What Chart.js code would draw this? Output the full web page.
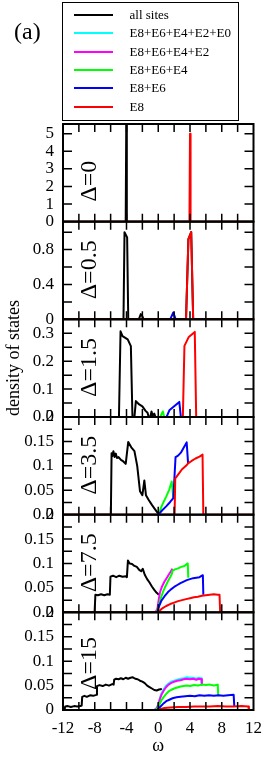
<!DOCTYPE html>
<html>
<head>
<meta charset="utf-8">
<script src="https://cdn.jsdelivr.net/npm/chart.js@4.4.1/dist/chart.umd.min.js"></script>
<style>
  body { margin: 0; background: #fff; }
  #wrap { position: relative; width: 270px; height: 757px; font-family: "Liberation Serif", serif; color: #000; }
  #chart { position: absolute; left: 0; top: 0; }
  #tag { position: absolute; left: 14px; top: 19px; font-size: 24px; line-height: 24px; }
  #legend { position: absolute; left: 62px; top: 2px; width: 177px; height: 119px; box-sizing: border-box;
            border: 1.5px solid #000; padding-top: 3px; }
  .row { display: flex; align-items: center; height: 18.3px; font-size: 13px; }
  .row .ln { width: 39px; height: 2px; margin-left: 10.5px; margin-right: 17px; }
  #ytitle { position: absolute; left: -87.5px; top: 348px; width: 200px; line-height: 20px; text-align: center;
            font-size: 18px; transform: rotate(-90deg); }
</style>
</head>
<body>
<div id="wrap">
  <canvas id="chart" width="270" height="757"></canvas>
  <div id="tag">(a)</div>
  <div id="legend"></div>
  <div id="ytitle">density of states</div>
</div>
<script>
// panel parameters
const deltas = ["0", "0.5", "1.5", "3.5", "7.5", "15"]
const yMax = [5.55, 1.12, 0.35, 0.2, 0.2, 0.2]
const yLabelStep = [1, 0.4, 0.1, 0.05, 0.05, 0.05]
const yMinorStep = [1, 0.2, 0.05, 0.025, 0.025, 0.025]
const xLabelStep = 4
const xMinorStep = 2

// series (legend order)
const seriesKeys = ["all", "e86420", "e8642", "e864", "e86", "e8"]
const seriesNames = ["all sites", "E8+E6+E4+E2+E0", "E8+E6+E4+E2", "E8+E6+E4", "E8+E6", "E8"]
const seriesColors = ["#000000", "#00ffff", "#ff00ff", "#00ff00", "#0000ff", "#ff0000"]

// Δ=0
const d0_all = [[-12,0],[-4.1,0],[-4.03,5.6],[-3.96,0],[12,0]]
const d0_e8 = [[-12,0],[3.93,0],[4.0,5.0],[4.07,0],[12,0]]

// Δ=0.5
const d1_all = [[-12,0],[-4.38,0],[-4.25,1.0],[-3.92,0.94],[-3.78,0],[-2.45,0],[-2.2,0.06],[-2.0,0.035],[-1.85,0],[3.5,0],[3.8,0.92],[4.15,1.0],[4.4,0],[12,0]]
const d1_e86 = [[1.5,0],[1.9,0.078],[2.2,0]]
const d1_e8 = [[-12,0],[3.5,0],[3.8,0.92],[4.15,1.0],[4.4,0],[12,0]]

// Δ=1.5
const d2_all = [[-12,0],[-4.95,0],[-4.75,0.307],[-4.5,0.29],[-3.85,0.278],[-3.45,0.254],[-3.25,0],[-3.0,0],[-2.82,0.057],[-2.4,0.045],[-2.0,0.038],[-1.6,0.022],[-1.35,0.015],[-1.2,0],[-1.0,0],[-0.85,0.02],[-0.7,0.005],[-0.5,0.012],[-0.35,0],[12,0]]
const d2_e864 = [[0.25,0],[0.58,0.02],[0.75,0]]
const d2_e86 = [[1.05,0],[1.4,0.024],[2.65,0.054],[2.85,0]]
const d2_e8 = [[-12,0],[3.1,0],[3.3,0.255],[3.85,0.287],[4.6,0.305],[4.78,0],[12,0]]

// Δ=3.5
const d3_all = [[-12,0],[-5.97,0],[-5.88,0.126],[-5.78,0.12],[-5.65,0.13],[-5.5,0.118],[-5.35,0.125],[-5.2,0.116],[-5.0,0.118],[-4.7,0.112],[-4.4,0.109],[-4.1,0.104],[-3.78,0.149],[-3.4,0.138],[-3.0,0.13],[-2.65,0.1],[-2.3,0.048],[-2.0,0.04],[-1.75,0.07],[-1.55,0.04],[-1.2,0.03],[-0.8,0.02],[-0.4,0.011],[0,0.002]]
const d3_e864 = [[0,0],[0.5,0.02],[1.0,0.037],[1.4,0.052],[1.7,0.068],[1.9,0.034]]
const d3_e86 = [[0,0],[0.5,0.009],[1.0,0.017],[1.5,0.026],[1.9,0.034],[2.18,0.118],[2.5,0.121],[2.85,0.127],[3.2,0.137],[3.58,0.148],[3.76,0.105]]
const d3_e8 = [[-12,0],[2.06,0],[2.14,0.074],[2.5,0.082],[3.0,0.093],[3.5,0.1],[3.76,0.105],[4.2,0.11],[4.7,0.115],[5.2,0.119],[5.58,0.123],[5.68,0],[12,0]]

// Δ=7.5
const d4_all = [[-12,0],[-8.02,0],[-7.92,0.036],[-7.6,0.035],[-7.2,0.037],[-6.8,0.035],[-6.4,0.037],[-6.1,0.036],[-6.02,0.073],[-5.7,0.075],[-5.3,0.072],[-4.9,0.075],[-4.5,0.073],[-4.1,0.074],[-3.95,0.072],[-3.82,0.106],[-3.6,0.1],[-3.3,0.099],[-3.0,0.095],[-2.7,0.093],[-2.4,0.087],[-2.15,0.084],[-1.95,0.089],[-1.7,0.077],[-1.4,0.068],[-1.1,0.061],[-0.8,0.053],[-0.5,0.046],[-0.2,0.04],[0.08,0.036]]
const d4_e8642 = [[-0.35,0],[-0.1,0.008],[0.05,0.025],[0.2,0.04],[0.45,0.052],[0.75,0.062],[1.05,0.07],[1.35,0.078],[1.6,0.084],[1.72,0.088],[1.76,0.085]]
const d4_e864 = [[-0.2,0],[0.05,0.012],[0.3,0.028],[0.6,0.042],[0.9,0.053],[1.2,0.063],[1.5,0.072],[1.72,0.079],[1.78,0.085],[2.1,0.088],[2.5,0.09],[2.9,0.093],[3.3,0.095],[3.6,0.099],[3.72,0.1],[3.78,0.071]]
const d4_e86 = [[-0.1,0],[0.1,0.012],[0.4,0.024],[0.8,0.033],[1.2,0.041],[1.6,0.047],[2.0,0.052],[2.4,0.056],[2.8,0.06],[3.2,0.063],[3.6,0.066],[4.0,0.068],[4.4,0.07],[4.8,0.071],[5.2,0.072],[5.5,0.075],[5.62,0.076],[5.68,0.036]]
const d4_e8 = [[-12,0],[0,0],[0.2,0.004],[0.5,0.008],[1.0,0.013],[1.5,0.017],[2.0,0.02],[2.5,0.023],[3.0,0.025],[3.5,0.027],[4.0,0.029],[4.5,0.031],[5.0,0.032],[5.5,0.034],[6.0,0.035],[6.5,0.036],[7.0,0.037],[7.5,0.036],[7.72,0.036],[7.8,0],[12,0]]

// Δ=15
const d5_all = [[-12,0],[-11.8,0.001],[-11.72,0.007],[-11.4,0.008],[-11,0.006],[-10.6,0.008],[-10.2,0.007],[-9.8,0.008],[-9.65,0.009],[-9.58,0.027],[-9.3,0.029],[-9.0,0.027],[-8.6,0.03],[-8.2,0.029],[-7.8,0.031],[-7.72,0.049],[-7.4,0.051],[-7.0,0.049],[-6.6,0.052],[-6.2,0.05],[-5.8,0.053],[-5.62,0.052],[-5.55,0.062],[-5.3,0.064],[-5.0,0.063],[-4.7,0.065],[-4.4,0.063],[-4.1,0.066],[-3.8,0.064],[-3.5,0.066],[-3.2,0.067],[-2.9,0.064],[-2.6,0.063],[-2.3,0.06],[-2.0,0.058],[-1.7,0.055],[-1.4,0.05],[-1.1,0.047],[-0.8,0.044],[-0.5,0.041],[-0.2,0.04],[0.1,0.042],[0.45,0.043]]
const d5_e86420 = [[-0.5,0],[-0.2,0.004],[0,0.012],[0.2,0.024],[0.4,0.034],[0.7,0.043],[1.0,0.05],[1.3,0.054],[1.6,0.058],[2.0,0.06],[2.4,0.062],[2.8,0.064],[3.2,0.065],[3.6,0.067],[4.0,0.066],[4.4,0.066],[4.8,0.064],[5.1,0.066],[5.4,0.065],[5.48,0.052]]
const d5_e8642 = [[-0.5,0],[-0.2,0.003],[0,0.01],[0.2,0.022],[0.4,0.031],[0.7,0.04],[1.0,0.047],[1.3,0.052],[1.6,0.055],[2.0,0.058],[2.4,0.06],[2.8,0.061],[3.2,0.063],[3.6,0.064],[4.0,0.063],[4.4,0.064],[4.8,0.062],[5.1,0.064],[5.45,0.063],[5.5,0.052]]
const d5_e864 = [[-0.3,0],[0,0.005],[0.2,0.013],[0.4,0.02],[0.7,0.027],[1.0,0.033],[1.3,0.038],[1.6,0.041],[2.0,0.044],[2.4,0.046],[2.8,0.048],[3.2,0.049],[3.6,0.05],[4.0,0.049],[4.5,0.051],[5.0,0.05],[5.5,0.052],[6.0,0.051],[6.5,0.052],[7.0,0.05],[7.5,0.052],[7.55,0.029]]
const d5_e86 = [[-0.1,0],[0.1,0.004],[0.4,0.009],[0.7,0.014],[1.0,0.018],[1.4,0.021],[1.8,0.024],[2.3,0.026],[2.8,0.027],[3.4,0.028],[4,0.029],[4.6,0.028],[5.2,0.03],[5.8,0.029],[6.4,0.03],[7.0,0.029],[7.6,0.03],[8.2,0.029],[8.8,0.03],[9.5,0.031],[9.58,0.008]]
const d5_e8 = [[-12,0],[0,0],[0.3,0.002],[0.8,0.004],[1.5,0.005],[2.5,0.006],[3.5,0.006],[4.5,0.007],[5.5,0.007],[6.5,0.007],[7.5,0.008],[8.5,0.007],[9.5,0.007],[10.5,0.008],[11.35,0.007],[11.42,0],[12,0]]

const panelSeries = [
  { all: d0_all, e8: d0_e8 },
  { all: d1_all, e86: d1_e86, e8: d1_e8 },
  { all: d2_all, e864: d2_e864, e86: d2_e86, e8: d2_e8 },
  { all: d3_all, e864: d3_e864, e86: d3_e86, e8: d3_e8 },
  { all: d4_all, e8642: d4_e8642, e864: d4_e864, e86: d4_e86, e8: d4_e8 },
  { all: d5_all, e86420: d5_e86420, e8642: d5_e8642, e864: d5_e864, e86: d5_e86, e8: d5_e8 }
]

const FONT = "'Liberation Serif', 'Times New Roman', serif"
const tickFont = { family: FONT, size: 17 }

// legend box
const legendEl = document.getElementById("legend")
seriesNames.forEach((name, k) => {
  const row = document.createElement("div")
  row.className = "row"
  row.innerHTML = `<span class="ln" style="background:${seriesColors[k]}"></span><span>${name}</span>`
  legendEl.appendChild(row)
})

const pts = a => a.map(([x, y]) => ({ x, y }))

const datasets = []
panelSeries.forEach((panel, i) => {
  seriesKeys.forEach((key, k) => {
    if (!panel[key]) return
    datasets.push({
      label: seriesNames[k],
      data: pts(panel[key]),
      yAxisID: "y" + i,
      borderColor: seriesColors[k],
      borderWidth: 2,
      borderJoinStyle: "round",
      pointRadius: 0,
      showLine: true,
      fill: false,
      order: seriesKeys.length - 1 - k
    })
  })
})

const scales = {
  x: {
    type: "linear",
    position: "bottom",
    min: -12,
    max: 12,
    grid: { display: false, drawTicks: false },
    border: { display: false },
    ticks: {
      stepSize: xLabelStep,
      autoSkip: false,
      maxRotation: 0,
      padding: 8,
      color: "#000",
      font: tickFont,
      callback: v => String(v)
    },
    title: { display: true, text: "ω", color: "#000", font: { family: FONT, size: 18 }, padding: 0 },
    afterFit: s => { s.height = 47 }
  }
}
deltas.forEach((d, i) => {
  scales["y" + i] = {
    type: "linear",
    position: "left",
    stack: "panels",
    stackWeight: 1,
    weight: deltas.length - i,
    min: 0,
    max: yMax[i],
    grid: { display: false, drawTicks: false },
    border: { display: false },
    ticks: {
      stepSize: yLabelStep[i],
      includeBounds: false,
      autoSkip: false,
      padding: 9,
      color: "#000",
      font: tickFont,
      callback: v => String(+v.toFixed(3))
    },
    afterFit: s => { s.width = 63 }
  }
})

// frame, inward tick marks and Δ labels for each panel
const panelFrame = {
  id: "panelFrame",
  afterDatasetsDraw(chart) {
    const ctx = chart.ctx
    const { left, right } = chart.chartArea
    const xs = chart.scales.x
    ctx.save()
    ctx.strokeStyle = "#000"
    deltas.forEach((d, i) => {
      const ys = chart.scales["y" + i]
      const top = ys.top
      const bottom = ys.bottom
      ctx.lineWidth = 1.5
      ctx.beginPath()
      for (let v = xs.min + xMinorStep; v < xs.max - 1e-9; v += xMinorStep) {
        const px = xs.getPixelForValue(v)
        ctx.moveTo(px, top)
        ctx.lineTo(px, top + 8)
        ctx.moveTo(px, bottom)
        ctx.lineTo(px, bottom - 8)
      }
      for (let v = yMinorStep[i]; v < yMax[i] - 1e-9; v += yMinorStep[i]) {
        const py = ys.getPixelForValue(v)
        ctx.moveTo(left, py)
        ctx.lineTo(left + 9, py)
        ctx.moveTo(right, py)
        ctx.lineTo(right - 9, py)
      }
      ctx.stroke()
      ctx.lineWidth = 2
      ctx.strokeRect(left, top, right - left, bottom - top)

      ctx.save()
      ctx.translate(90, bottom - 20)
      ctx.rotate(-Math.PI / 2)
      ctx.font = "24px " + FONT
      ctx.fillStyle = "#000"
      ctx.textAlign = "left"
      ctx.textBaseline = "middle"
      ctx.fillText("Δ=" + d, 0, 0)
      ctx.restore()
    })
    ctx.restore()
  }
}

function draw() {
  new Chart(document.getElementById("chart").getContext("2d"), {
    type: "scatter",
    data: { datasets },
    options: {
      responsive: false,
      devicePixelRatio: 1,
      animation: false,
      layout: { padding: { top: 124, right: 11, bottom: 0, left: 0 } },
      scales,
      plugins: {
        legend: { display: false },
        tooltip: { enabled: false }
      }
    },
    plugins: [panelFrame]
  })
}

document.fonts.load("17px 'Liberation Serif'").then(draw, draw)
</script>
</body>
</html>
